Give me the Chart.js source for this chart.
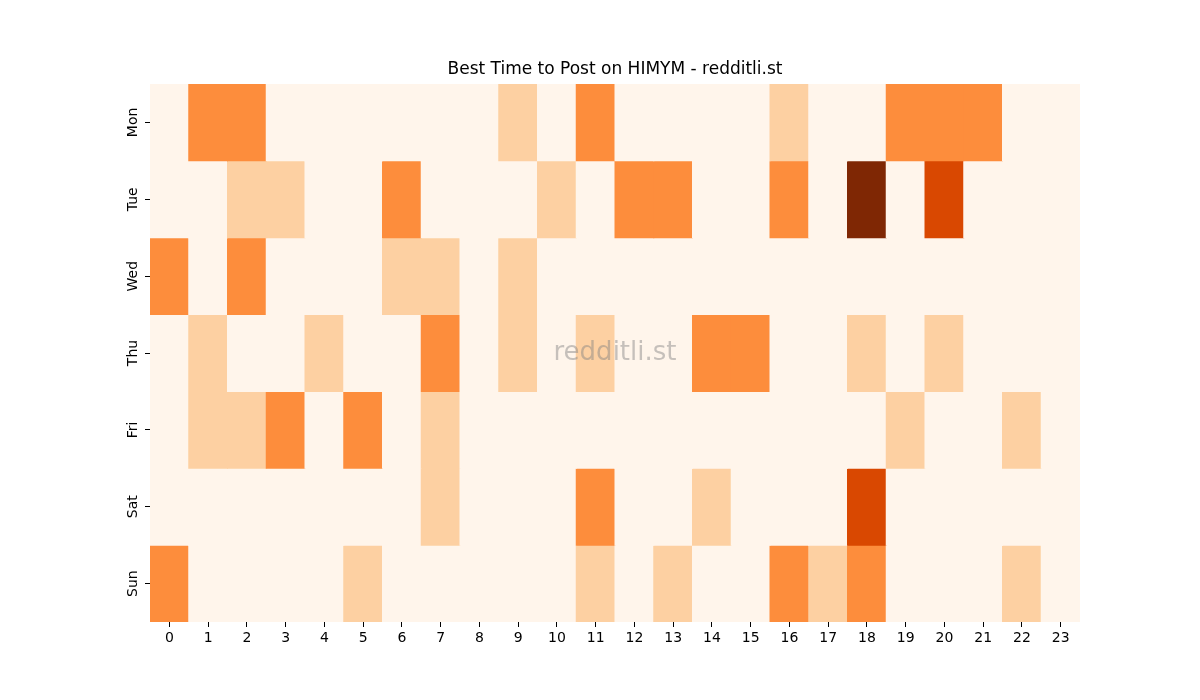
<!DOCTYPE html>
<html>
<head>
<meta charset="utf-8">
<script src="https://cdn.jsdelivr.net/npm/chart.js@4"></script>
<style>
  html, body { margin: 0; padding: 0; background: #fff; }
  #wrap { width: 1200px; height: 700px; }
</style>
</head>
<body>
<div id="wrap"><canvas id="myChart" width="1200" height="700"></canvas></div>
<script>
// heatmap levels, one array per day, index = hour
var days = ["Mon", "Tue", "Wed", "Thu", "Fri", "Sat", "Sun"];
var hours = ["0", "1", "2", "3", "4", "5", "6", "7", "8", "9", "10", "11",
             "12", "13", "14", "15", "16", "17", "18", "19", "20", "21", "22", "23"];

var mon = [0, 2, 2, 0, 0, 0, 0, 0, 0, 1, 0, 2, 0, 0, 0, 0, 1, 0, 0, 2, 2, 2, 0, 0];
var tue = [0, 0, 1, 1, 0, 0, 2, 0, 0, 0, 1, 0, 2, 2, 0, 0, 2, 0, 4, 0, 3, 0, 0, 0];
var wed = [2, 0, 2, 0, 0, 0, 1, 1, 0, 1, 0, 0, 0, 0, 0, 0, 0, 0, 0, 0, 0, 0, 0, 0];
var thu = [0, 1, 0, 0, 1, 0, 0, 2, 0, 1, 0, 1, 0, 0, 2, 2, 0, 0, 1, 0, 1, 0, 0, 0];
var fri = [0, 1, 1, 2, 0, 2, 0, 1, 0, 0, 0, 0, 0, 0, 0, 0, 0, 0, 0, 1, 0, 0, 1, 0];
var sat = [0, 0, 0, 0, 0, 0, 0, 1, 0, 0, 0, 2, 0, 0, 1, 0, 0, 0, 3, 0, 0, 0, 0, 0];
var sun = [2, 0, 0, 0, 0, 1, 0, 0, 0, 0, 0, 1, 0, 1, 0, 0, 2, 1, 2, 0, 0, 0, 1, 0];

var rows = [mon, tue, wed, thu, fri, sat, sun];

// Oranges colormap, 0..4
var palette = ["#fff5eb", "#fdd0a2", "#fd8d3c", "#d94801", "#7f2704"];

var titleText = "Best Time to Post on HIMYM - redditli.st";

var datasets = rows.map(function (row, d) {
    return {
        label: days[d],
        data: row.map(function () { return 1; }),
        backgroundColor: row.map(function (v) { return palette[v]; }),
        borderWidth: 0,
        barPercentage: 1.0,
        categoryPercentage: 1.0,
        inflateAmount: 0.5,
        stack: "s"
    };
});

// title over the plot area, rotated day labels, watermark
var extras = {
    id: "extras",
    afterDraw: function (chart) {
        var a = chart.chartArea;
        var c = chart.ctx;
        var ys = chart.scales.y;
        c.save();
        c.fillStyle = "#000";
        c.textAlign = "center";
        c.textBaseline = "middle";
        c.font = "17px 'DejaVu Sans'";
        c.fillText(titleText, (a.left + a.right) / 2, 70);

        c.font = "14px 'DejaVu Sans'";
        days.forEach(function (d, i) {
            var y = ys.getPixelForValue(i + 0.5);
            c.save();
            c.translate(a.left - 17, y);
            c.rotate(-Math.PI / 2);
            c.fillText(d, 0, 0);
            c.restore();
        });

        c.font = "26px 'DejaVu Sans'";
        c.fillStyle = "rgba(128,128,128,0.45)";
        c.fillText("redditli.st", (a.left + a.right) / 2, (a.top + a.bottom) / 2);
        c.restore();
    }
};

var ctx = document.getElementById("myChart").getContext("2d");
var myChart = new Chart(ctx, {
    type: "bar",
    data: { labels: hours, datasets: datasets },
    plugins: [extras],
    options: {
        responsive: false,
        animation: false,
        events: [],
        layout: { padding: { top: 84, right: 120, left: 0, bottom: 0 } },
        plugins: {
            legend: { display: false },
            tooltip: { enabled: false },
            title: { display: false }
        },
        scales: {
            x: {
                stacked: true,
                grid: { offset: false, drawOnChartArea: false, drawTicks: true, tickLength: 5, color: "#000" },
                border: { display: false },
                ticks: { color: "#000", font: { family: "'DejaVu Sans'", size: 14 }, padding: 3, maxRotation: 0, autoSkip: false },
                afterFit: function (s) { s.height = 78; }
            },
            y: {
                stacked: true,
                reverse: true,
                min: 0,
                max: 7,
                afterBuildTicks: function (s) {
                    s.ticks = days.map(function (d, i) { return { value: i + 0.5 }; });
                },
                grid: { drawOnChartArea: false, drawTicks: true, tickLength: 5, color: "#000" },
                border: { display: false },
                ticks: { display: false },
                afterFit: function (s) { s.width = 150; }
            }
        }
    }
});
</script>
</body>
</html>
